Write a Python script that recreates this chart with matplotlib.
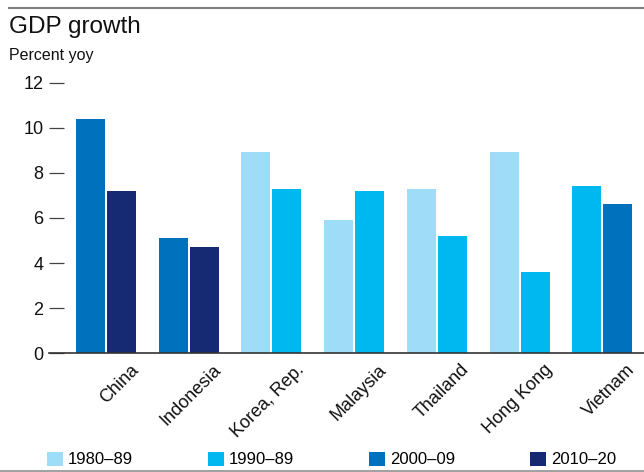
import matplotlib
matplotlib.use("Agg")
import matplotlib.pyplot as plt
from matplotlib.lines import Line2D
from matplotlib.patches import Patch
from matplotlib.transforms import ScaledTranslation
import numpy as np

plt.rcParams["font.family"] = ["Liberation Sans", "DejaVu Sans"]

countries = ["China", "Indonesia", "Korea, Rep.", "Malaysia", "Thailand", "Hong Kong", "Vietnam"]
periods = ["1980\u201389", "1990\u201389", "2000\u201309", "2010\u201320"]
colors = ["#9fdcf7", "#00b8f0", "#0071bc", "#152a72"]

# each country shows two decades: (period index, growth) for left and right bar
left_period = [2, 2, 0, 0, 0, 0, 1]
left_value = [10.4, 5.1, 8.9, 5.9, 7.3, 8.9, 7.4]
right_period = [3, 3, 1, 1, 1, 1, 2]
right_value = [7.2, 4.7, 7.3, 7.2, 5.2, 3.6, 6.6]

W, H, DPI = 644, 472, 100
fig = plt.figure(figsize=(W / DPI, H / DPI), dpi=DPI)
ax = fig.add_axes([49 / W, (H - 353.3) / H, 1 - 49 / W, (353.3 - 82.5) / H])

x = np.arange(len(countries))
width = 0.35
off = 0.1875
ax.bar(x - off, left_value, width, color=[colors[p] for p in left_period])
ax.bar(x + off, right_value, width, color=[colors[p] for p in right_period])

ax.set_xlim(-0.69, 6.505)
ax.set_ylim(0, 12)
ax.set_yticks(range(0, 13, 2))
ax.tick_params(axis="y", direction="in", length=11, width=0.9, color="#444444",
               pad=4, labelsize=13, labelcolor="#111111")
for s in ["top", "right", "left"]:
    ax.spines[s].set_visible(False)
ax.spines["bottom"].set_color("#333333")
ax.spines["bottom"].set_linewidth(1.2)

ax.set_xticks(x)
ax.set_xticklabels(countries, rotation=45, ha="right", va="top",
                   rotation_mode="anchor", fontsize=13, color="#111111")
ax.tick_params(axis="x", length=0, pad=0)
shift = ScaledTranslation(24 / DPI, -8 / DPI, fig.dpi_scale_trans)
for lab in ax.get_xticklabels():
    lab.set_transform(lab.get_transform() + shift)

# header and rules
fig.text(9 / W, 1 - 33 / H, "GDP growth", fontsize=17.5, va="baseline", color="#111111")
fig.text(9 / W, 1 - 60 / H, "Percent yoy", fontsize=11.5, va="baseline", color="#111111")
fig.add_artist(Line2D([9 / W, 1], [1 - 7.5 / H] * 2, color="#808080", lw=1.5))
fig.add_artist(Line2D([0, 1], [1.2 / H] * 2, color="#909090", lw=1.2))

handles = [Patch(facecolor=c, edgecolor="none") for c in colors]
fig.legend(handles, periods, loc="center left", bbox_to_anchor=(47 / W, 12.5 / H),
           ncol=4, frameon=False, fontsize=12, handlelength=0.95, handleheight=0.95,
           handletextpad=0.3, columnspacing=4.5, borderpad=0, borderaxespad=0)

fig.savefig("out.png", dpi=DPI)
